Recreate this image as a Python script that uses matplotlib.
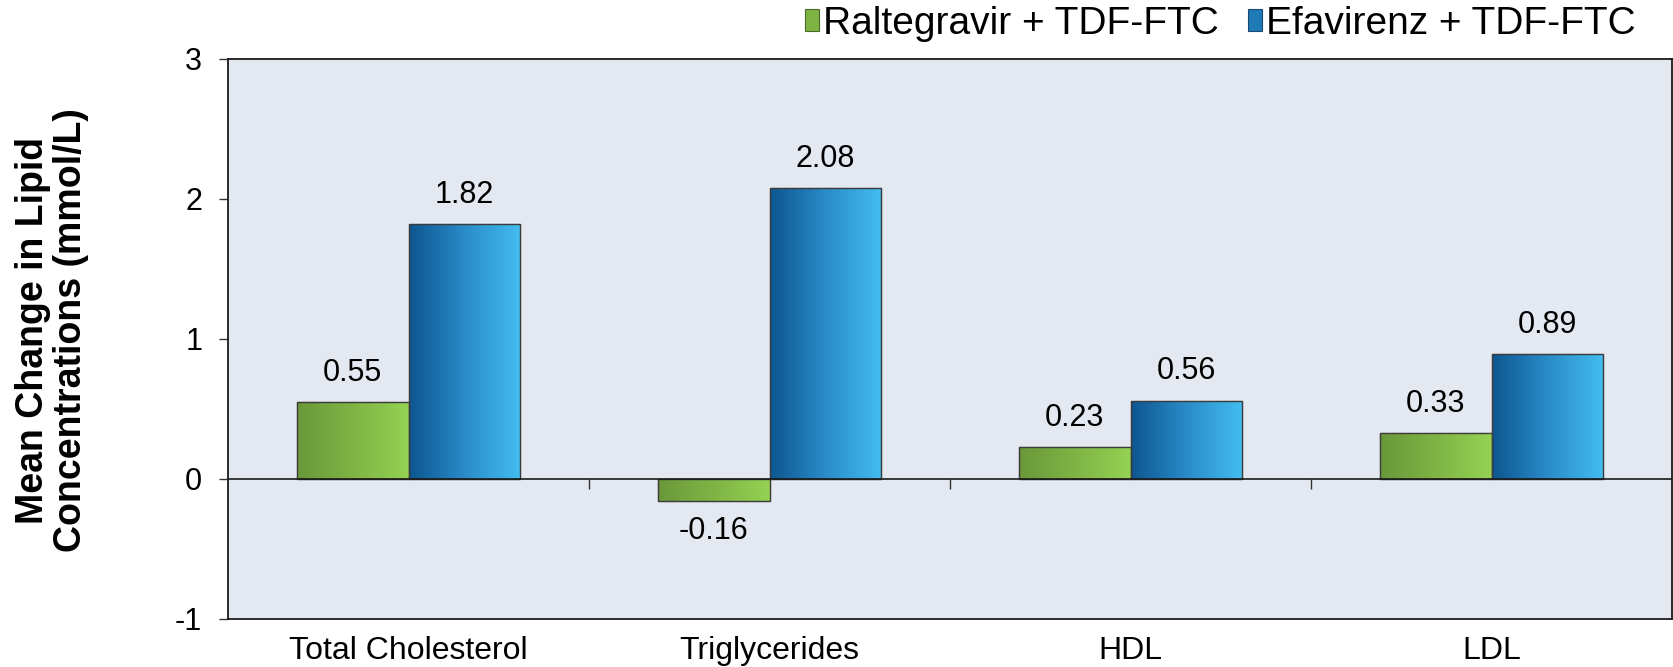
import numpy as np
import matplotlib
matplotlib.use("Agg")
import matplotlib.pyplot as plt
from matplotlib.patches import Patch
from matplotlib.colors import LinearSegmentedColormap

categories = ["Total Cholesterol", "Triglycerides", "HDL", "LDL"]
series_names = ["Raltegravir + TDF-FTC", "Efavirenz + TDF-FTC"]
raltegravir = [0.55, -0.16, 0.23, 0.33]
efavirenz = [1.82, 2.08, 0.56, 0.89]
value_labels_r = ["0.55", "-0.16", "0.23", "0.33"]
value_labels_e = ["1.82", "2.08", "0.56", "0.89"]
yticks = [-1, 0, 1, 2, 3]

plt.rcParams['font.family'] = ['Liberation Sans', 'DejaVu Sans']

W, H = 1673, 667
fig = plt.figure(figsize=(W / 100, H / 100), dpi=100)
ax = fig.add_axes([228 / W, 1 - 619 / H, (1672 - 228) / W, (619 - 59) / H])
ax.set_facecolor("#e4e8f0")

x = np.arange(len(categories))
bw = 0.31
green_cmap = LinearSegmentedColormap.from_list("g", ["#6a983a", "#7fb445", "#95d253"])
blue_cmap = LinearSegmentedColormap.from_list("b", ["#0d5590", "#2a8cc8", "#43bdf0"])
green_mid = "#7fb445"
blue_mid = "#1f7ab8"

bars_r = ax.bar(x - bw / 2, raltegravir, bw, color=green_mid, edgecolor="#4a4a4a", linewidth=0.8, zorder=2)
bars_e = ax.bar(x + bw / 2, efavirenz, bw, color=blue_mid, edgecolor="#4a4a4a", linewidth=0.8, zorder=2)

ax.set_xlim(-0.5, len(categories) - 0.5)
ax.set_ylim(-1, 3)

grad = np.linspace(0, 1, 256).reshape(1, -1)
for bars, cmap in ((bars_r, green_cmap), (bars_e, blue_cmap)):
    for p in bars:
        x0, y0 = p.get_x(), p.get_y()
        w, h = p.get_width(), p.get_height()
        im = ax.imshow(grad, cmap=cmap, aspect="auto", extent=(x0, x0 + w, min(y0, y0 + h), max(y0, y0 + h)),
                       zorder=2.5, interpolation="bilinear")
        im.set_clip_path(p)
        ax.add_patch(plt.Rectangle((x0, y0), w, h, fill=False, edgecolor="#3c3c3c", linewidth=1.0, zorder=3))

ax.set_xlim(-0.5, len(categories) - 0.5)
ax.set_ylim(-1, 3)

for bars, vals, labs in ((bars_r, raltegravir, value_labels_r), (bars_e, efavirenz, value_labels_e)):
    for p, v, s in zip(bars, vals, labs):
        cx = p.get_x() + p.get_width() / 2
        off = 21 if v >= 0 else -21
        ax.annotate(s, (cx, v), xytext=(0, off), textcoords="offset points",
                    ha="center", va="center", fontsize=22, color="black", zorder=4)

for sp in ax.spines.values():
    sp.set_color("#1a1a1a")
    sp.set_linewidth(1.3)
ax.set_yticks(yticks)
ax.set_yticklabels([str(t) for t in yticks])
ax.tick_params(axis="y", direction="out", length=6.5, width=1.0, pad=12, labelsize=22, color="#333333")
ax.set_xticks(x)
ax.set_xticklabels(categories)
ax.tick_params(axis="x", length=0, pad=12, labelsize=23)

ax.axhline(0, color="#1a1a1a", linewidth=1.2, zorder=3.5)
sec = ax.secondary_xaxis((0 - (-1)) / (3 - (-1)))
sec.set_xticks(x[:-1] + 0.5)
sec.tick_params(axis="x", direction="out", length=7, width=1.0, labelbottom=False, labeltop=False, color="#333333")
sec.spines["bottom"].set_visible(False)
sec.spines["top"].set_visible(False)

fig.text(52 / W, 1 - 330 / H, "Mean Change in Lipid\nConcentrations (mmol/L)", rotation=90,
         ha="center", va="center", multialignment="center", fontsize=27, fontweight="bold", linespacing=1.08)

handles = [Patch(facecolor=green_mid, edgecolor="#4a6a2a", linewidth=0.8),
           Patch(facecolor=blue_mid, edgecolor="#1a4a70", linewidth=0.8)]
fig.legend(handles, series_names, loc="center right", bbox_to_anchor=(1636 / W, 1 - 24 / H),
           ncol=2, frameon=False, fontsize=28, handlelength=0.35, handleheight=0.5,
           handletextpad=0.12, columnspacing=0.75, borderpad=0, borderaxespad=0)

fig.savefig("out.png", dpi=100)
